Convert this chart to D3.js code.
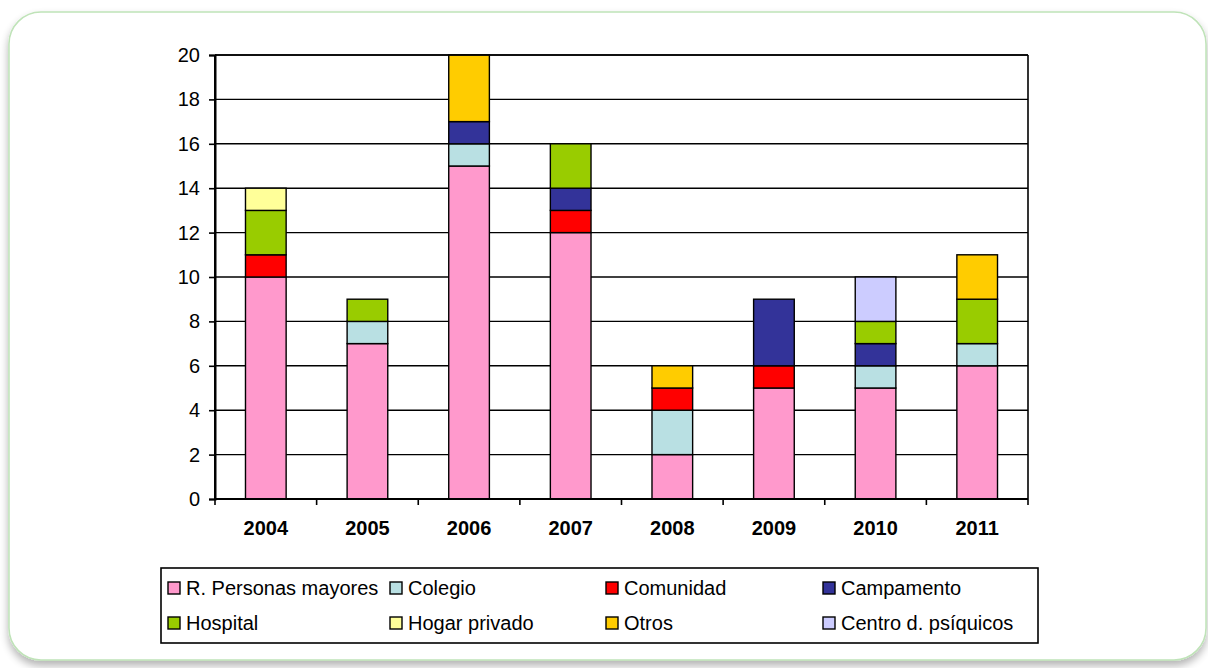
<!DOCTYPE html>
<html>
<head>
<meta charset="utf-8">
<script src="https://cdn.jsdelivr.net/npm/d3@7"></script>
<style>
  html, body { margin: 0; padding: 0; background: #fff; }
  svg { display: block; font-family: "Liberation Sans", Arial, sans-serif; }
</style>
</head>
<body>
<svg id="chart" width="1208" height="668"></svg>
<script>
// Annual counts by setting, stacked per year
const years = ["2004", "2005", "2006", "2007", "2008", "2009", "2010", "2011"];
const seriesNames = ["R. Personas mayores", "Colegio", "Comunidad", "Campamento",
                     "Hospital", "Hogar privado", "Otros", "Centro d. psíquicos"];
const personasMayores = [10, 7, 15, 12, 2, 5, 5, 6];
const colegio         = [0, 1, 1, 0, 2, 0, 1, 1];
const comunidad       = [1, 0, 0, 1, 1, 1, 0, 0];
const campamento      = [0, 0, 1, 1, 0, 3, 1, 0];
const hospital        = [2, 1, 0, 2, 0, 0, 1, 2];
const hogarPrivado    = [1, 0, 0, 0, 0, 0, 0, 0];
const otros           = [0, 0, 3, 0, 1, 0, 0, 2];
const centroPsiquicos = [0, 0, 0, 0, 0, 0, 2, 0];
const yTicks = [0, 2, 4, 6, 8, 10, 12, 14, 16, 18, 20];
const colors = ["#ff99cc", "#b9e0e3", "#ff0000", "#333399",
                "#99cc00", "#ffff99", "#ffcc00", "#ccccff"];

const seriesValues = [personasMayores, colegio, comunidad, campamento,
                      hospital, hogarPrivado, otros, centroPsiquicos];
const rows = years.map((yr, i) => {
  const r = { year: yr };
  seriesNames.forEach((s, k) => { r[s] = seriesValues[k][i]; });
  return r;
});

const svg = d3.select("#chart");
const FONT = "'Liberation Sans', Arial, sans-serif";

// Card frame with a soft shadow at the bottom
const defs = svg.append("defs");
const f = defs.append("filter").attr("id", "shadow")
  .attr("x", "-5%").attr("y", "-5%").attr("width", "110%").attr("height", "115%");
f.append("feGaussianBlur").attr("in", "SourceAlpha").attr("stdDeviation", 4);
f.append("feOffset").attr("dy", 5).attr("result", "b");
f.append("feComponentTransfer").append("feFuncA").attr("type", "linear").attr("slope", 0.3);
const fm = f.append("feMerge");
fm.append("feMergeNode");
fm.append("feMergeNode").attr("in", "SourceGraphic");

svg.append("rect")
  .attr("x", 9).attr("y", 12).attr("width", 1197).attr("height", 648)
  .attr("rx", 32).attr("ry", 32)
  .attr("fill", "#fff").attr("stroke", "#bfe3b8").attr("stroke-width", 1.5)
  .attr("filter", "url(#shadow)");

const plotL = 215, plotR = 1028, plotT = 55, plotB = 499;

const x = d3.scaleBand().domain(years).range([plotL, plotR]).paddingInner(0.6).paddingOuter(0.3);
const xOuter = d3.scaleBand().domain(years).range([plotL, plotR]);
const y = d3.scaleLinear().domain([0, 20]).range([plotB, plotT]);

// Gridlines
svg.append("g").selectAll("line").data(yTicks.filter(t => t > 0)).join("line")
  .attr("x1", plotL).attr("x2", plotR)
  .attr("y1", d => y(d)).attr("y2", d => y(d))
  .attr("stroke", "#000").attr("stroke-width", 1.4);
// Plot border right
svg.append("line").attr("x1", plotR).attr("x2", plotR).attr("y1", plotT).attr("y2", plotB)
  .attr("stroke", "#000").attr("stroke-width", 1.6);

// Stacked bars
const stack = d3.stack().keys(seriesNames)(rows);
svg.append("g").selectAll("g").data(stack).join("g")
  .attr("fill", (d, i) => colors[i])
  .selectAll("rect").data(d => d.filter(p => p[1] - p[0] > 0)).join("rect")
  .attr("x", d => x(d.data.year))
  .attr("width", x.bandwidth())
  .attr("y", d => y(d[1]))
  .attr("height", d => y(d[0]) - y(d[1]))
  .attr("stroke", "#000").attr("stroke-width", 1.4);

// Y axis
const yAxis = svg.append("g").attr("transform", `translate(${plotL},0)`)
  .call(d3.axisLeft(y).tickValues(yTicks).tickSize(6).tickPadding(9).tickFormat(d3.format("d")));
yAxis.select(".domain").attr("stroke-width", 2);
yAxis.selectAll(".tick line").attr("stroke-width", 1.6);
yAxis.selectAll("text").attr("font-size", 20).attr("fill", "#000").attr("font-family", FONT);

// X axis with ticks at category boundaries
const xAxis = svg.append("g").attr("transform", `translate(0,${plotB})`);
xAxis.append("line").attr("x1", plotL).attr("x2", plotR).attr("stroke", "#000").attr("stroke-width", 2);
const bounds = years.map(yv => xOuter(yv)).concat([plotR]);
xAxis.selectAll("line.tk").data(bounds).join("line").attr("class", "tk")
  .attr("x1", d => d).attr("x2", d => d).attr("y1", 0).attr("y2", 6)
  .attr("stroke", "#000").attr("stroke-width", 1.6);
xAxis.selectAll("text").data(years).join("text")
  .attr("x", d => xOuter(d) + xOuter.bandwidth() / 2)
  .attr("y", 36)
  .attr("text-anchor", "middle")
  .attr("font-family", FONT)
  .attr("font-size", 20).attr("font-weight", "bold")
  .text(d => d);

// Axis frame lines drawn over the bars
svg.append("line").attr("x1", plotL).attr("x2", plotL).attr("y1", plotT).attr("y2", plotB + 1)
  .attr("stroke", "#000").attr("stroke-width", 2);
svg.append("line").attr("x1", plotL).attr("x2", plotR).attr("y1", plotT).attr("y2", plotT)
  .attr("stroke", "#000").attr("stroke-width", 1.6);

// Legend
const lg = svg.append("g");
lg.append("rect").attr("x", 161).attr("y", 568).attr("width", 877).attr("height", 75)
  .attr("fill", "#fff").attr("stroke", "#000").attr("stroke-width", 1.6);
const colX = [168, 390, 606, 823];
const rowY = [588, 623];
const items = lg.selectAll("g.item").data(seriesNames).join("g").attr("class", "item")
  .attr("transform", (d, i) => `translate(${colX[i % 4]},${rowY[Math.floor(i / 4)]})`);
items.append("rect").attr("x", 0).attr("y", -6).attr("width", 12).attr("height", 12)
  .attr("fill", (d, i) => colors[i]).attr("stroke", "#000").attr("stroke-width", 1.4);
items.append("text").attr("x", 18).attr("y", 0).attr("dy", "0.35em")
  .attr("font-family", FONT).attr("font-size", 20).text(d => d);
</script>
</body>
</html>
